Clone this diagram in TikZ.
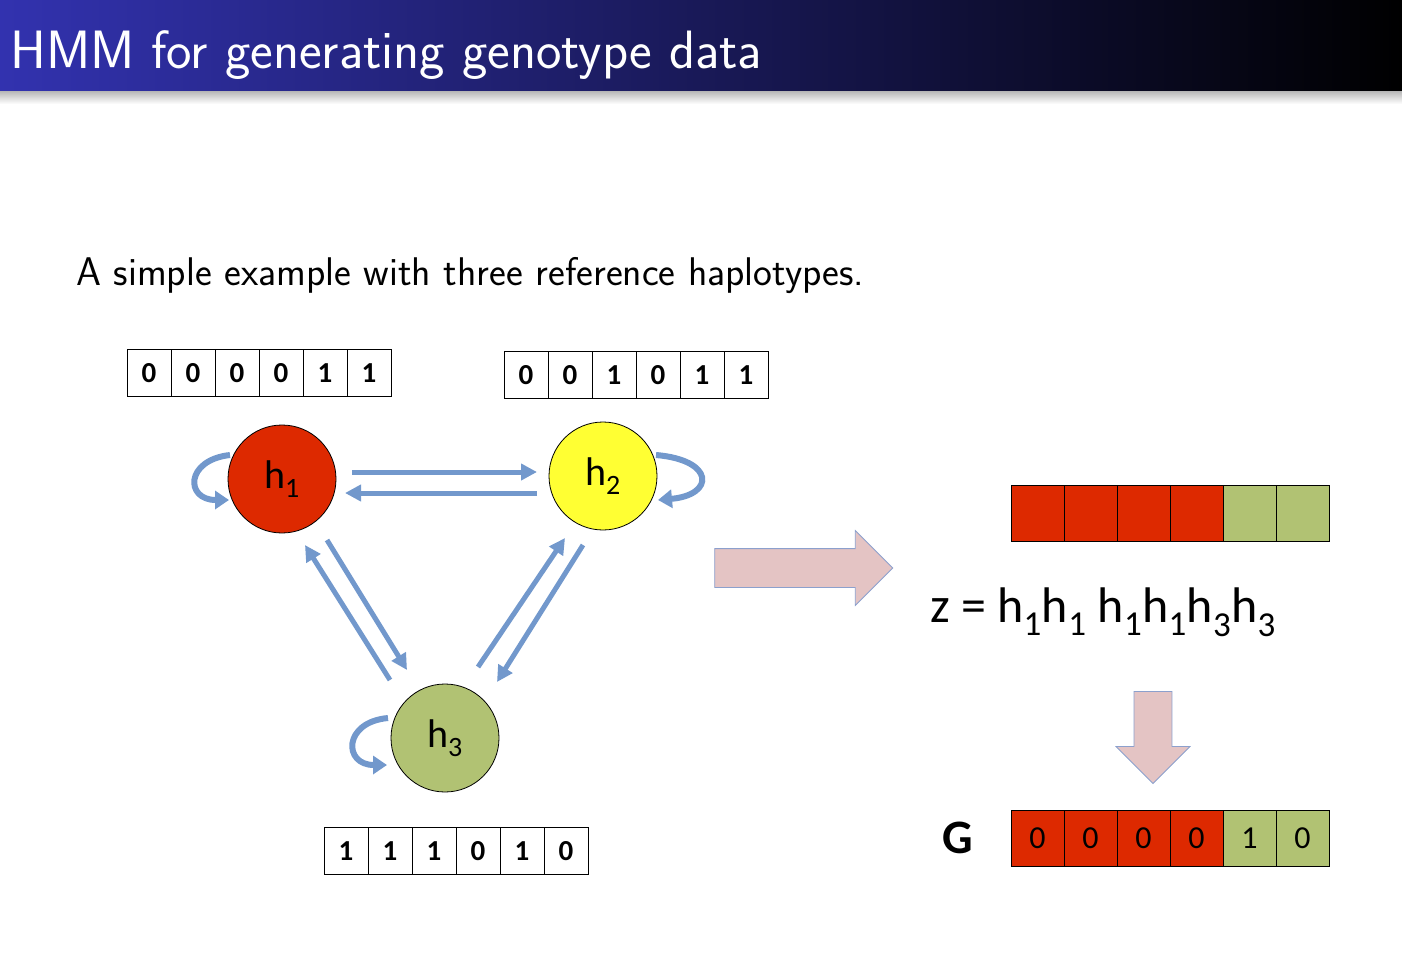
\documentclass[tikz,border=0pt]{standalone}
\usepackage{fontspec}
\newfontfamily\cali{Carlito}
\usetikzlibrary{arrows.meta,shapes.arrows}
\definecolor{tb}{RGB}{50,50,175}
\definecolor{ab}{RGB}{114,152,204}
\definecolor{rd}{RGB}{221,41,0}
\definecolor{gr}{RGB}{177,194,115}
\definecolor{yl}{RGB}{255,255,51}
\definecolor{pk}{RGB}{228,196,196}
\definecolor{pko}{RGB}{140,160,205}
\tikzset{
 st/.style={circle,draw,thick,minimum size=108pt,inner sep=0pt,font=\cali\fontsize{40}{40}\selectfont},
 tr/.style={draw=ab,line width=5pt,-{Triangle[length=16pt,width=16pt]}},
 lp/.style={draw=ab,line width=6pt,-{Triangle[length=14pt,width=18pt]}},
 bit/.style={draw,thick,fill=white,minimum width=44pt,minimum height=47pt,inner sep=0pt,font=\cali\bfseries\fontsize{29}{29}\selectfont},
 cell/.style={draw,thick,minimum width=53pt,minimum height=56pt,inner sep=0pt,font=\cali\fontsize{32}{32}\selectfont},
}
\begin{document}
\begin{tikzpicture}[x=1pt,y=-1pt]
\useasboundingbox (0,0) rectangle (1402,966);
\shade[top color=gray!70,bottom color=white] (0,88) rectangle (1402,104);
\shade[left color=tb,right color=black] (0,0) rectangle (1402,90);
\node[anchor=base west,text=white,font=\sffamily\fontsize{54}{54}\selectfont,inner sep=0pt] (title) at (10,68) {HMM for generating genotype data};
\node[anchor=base west,font=\sffamily\fontsize{40}{40}\selectfont,inner sep=0pt] (sub) at (76,285) {A simple example with three reference haplotypes.};
% bits
\foreach \v [count=\i] in {0,0,0,0,1,1} \node[bit] (a\i) at (127+44*\i-22,373) {\v};
\foreach \v [count=\i] in {0,0,1,0,1,1} \node[bit] (b\i) at (504+44*\i-22,375) {\v};
\foreach \v [count=\i] in {1,1,1,0,1,0} \node[bit] (c\i) at (324+44*\i-22,851) {\v};
% states
\node[st,fill=rd] (h1) at (282,479) {h\textsubscript{1}};
\node[st,fill=yl] (h2) at (603,476) {h\textsubscript{2}};
\node[st,fill=gr] (h3) at (445,738) {h\textsubscript{3}};
\coordinate (p1) at (352,472); \coordinate (p2) at (537,472);
\coordinate (q1) at (537,493); \coordinate (q2) at (345,493);
\draw[tr] (p1) -- (p2); \draw[tr] (q1) -- (q2);
\coordinate (r1) at (327,540); \coordinate (r2) at (407,670);
\coordinate (s1) at (390,680); \coordinate (s2) at (305,545);
\draw[tr] (r1) -- (r2); \draw[tr] (s1) -- (s2);
\coordinate (u1) at (478,667); \coordinate (u2) at (565,538);
\coordinate (v1) at (583,545); \coordinate (v2) at (497,682);
\draw[tr] (u1) -- (u2); \draw[tr] (v1) -- (v2);
% loops
\coordinate (l1a) at (230,455); \coordinate (l1b) at (229,500);
\draw[lp] (l1a) .. controls (185,460) and (185,500) .. (l1b);
\coordinate (l2a) at (656,455); \coordinate (l2b) at (658,500);
\draw[lp] (l2a) .. controls (715,460) and (715,495) .. (l2b);
\coordinate (l3a) at (388,718); \coordinate (l3b) at (387,765);
\draw[lp] (l3a) .. controls (343,722) and (343,765) .. (l3b);
% big arrows
\node[single arrow,draw=pko,fill=pk,thick,minimum height=178pt,minimum width=74pt,single arrow head extend=18pt,inner sep=0pt,single arrow tip angle=90] (ra) at (794,568) {\phantom{\rule{1pt}{38pt}}};
\node[single arrow,draw=pko,fill=pk,thick,rotate=-90,minimum height=92pt,minimum width=74pt,single arrow head extend=18pt,inner sep=0pt,single arrow tip angle=90] (da) at (1153,728) {\phantom{\rule{1pt}{37pt}}};
% top bar
\foreach \c [count=\i] in {rd,rd,rd,rd,gr,gr} \node[cell,fill=\c] (t\i) at (1011+53*\i-26.5,513) {};
\node[anchor=base west,inner sep=0pt,font=\cali\fontsize{50}{50}\selectfont] (z) at (930,622) {z = h\textsubscript{1}h\textsubscript{1} h\textsubscript{1}h\textsubscript{1}h\textsubscript{3}h\textsubscript{3}};
\foreach \c/\v [count=\i] in {rd/0,rd/0,rd/0,rd/0,gr/1,gr/0} \node[cell,fill=\c] (g\i) at (1011+53*\i-26.5,838) {\v};
\node[font=\cali\bfseries\fontsize{48}{48}\selectfont] (G) at (958,838) {G};
\end{tikzpicture}
\end{document}
